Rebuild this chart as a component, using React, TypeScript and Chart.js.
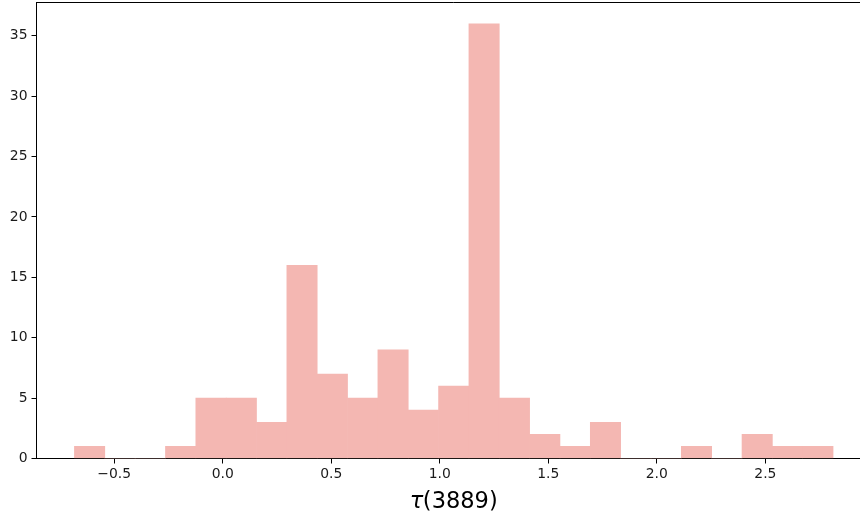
import React, { useEffect, useRef } from "react";
import { Chart, registerables } from "chart.js";

Chart.register(...registerables);

// Histogram of tau(3889): 25 equal-width bins
const binStart = -0.683;
const binWidth = 0.1398;
const counts = [1, 0, 0, 1, 5, 5, 3, 16, 7, 5, 9, 4, 6, 36, 5, 2, 1, 3, 0, 0, 1, 0, 2, 1, 1];
const xTicks = [-0.5, 0.0, 0.5, 1.0, 1.5, 2.0, 2.5];
const yTicks = [0, 5, 10, 15, 20, 25, 30, 35];
const xLabelSymbol = "τ";
const xLabelRest = "(3889)";

const xMin = -0.8578;
const xMax = 2.9868;
const yMax = 37.8;

const barColor = "rgb(244,183,178)";
const tickFont = { family: "DejaVu Sans", size: 13.9 };

export default function App() {
  const ref = useRef<HTMLCanvasElement | null>(null);

  useEffect(() => {
    const canvas = ref.current;
    if (!canvas) return;
    const points = counts.map((c, i) => ({ x: binStart + (i + 0.5) * binWidth, y: c }));

    const frame = {
      id: "frame",
      afterDraw(chart: any) {
        const { ctx, chartArea } = chart;
        ctx.save();
        ctx.strokeStyle = "#000";
        ctx.lineWidth = 1;
        ctx.beginPath();
        ctx.moveTo(chartArea.left, Math.round(chartArea.top) + 0.5);
        ctx.lineTo(chartArea.right, Math.round(chartArea.top) + 0.5);
        ctx.stroke();
        // x axis label: italic tau + upright rest
        const size = 22.5;
        ctx.fillStyle = "#000";
        ctx.textBaseline = "alphabetic";
        ctx.font = `italic ${size}px "DejaVu Sans"`;
        const w1 = ctx.measureText(xLabelSymbol).width;
        ctx.font = `${size}px "DejaVu Sans"`;
        const w2 = ctx.measureText(xLabelRest).width;
        const gap = -0.5;
        const cx = (chartArea.left + chartArea.right) / 2;
        const x0 = cx - (w1 + gap + w2) / 2;
        const y = 508;
        ctx.font = `italic ${size}px "DejaVu Sans"`;
        ctx.fillText(xLabelSymbol, x0, y);
        ctx.font = `${size}px "DejaVu Sans"`;
        ctx.fillText(xLabelRest, x0 + w1 + gap, y);
        ctx.restore();
      },
    };

    const chart = new Chart(canvas, {
      type: "bar",
      data: {
        datasets: [
          {
            data: points,
            backgroundColor: barColor,
            borderWidth: 0,
            barPercentage: 1,
            categoryPercentage: 1,
          } as any,
        ],
      },
      options: {
        animation: false,
        responsive: false,
        devicePixelRatio: 1,
        layout: { padding: { top: 2, right: 1, left: 0, bottom: 0 } },
        plugins: { legend: { display: false }, tooltip: { enabled: false } },
        scales: {
          x: {
            type: "linear",
            min: xMin,
            max: xMax,
            offset: false,
            afterBuildTicks: (s: any) => {
              s.ticks = xTicks.map((v) => ({ value: v }));
            },
            afterFit: (s: any) => {
              s.height = 55.5;
              s.paddingLeft = 0;
              s.paddingRight = 0;
            },
            grid: {
              display: true,
              offset: false,
              drawOnChartArea: false,
              drawTicks: true,
              tickLength: 5,
              tickColor: "#000",
              tickWidth: 1,
            },
            border: { display: true, color: "#000", width: 1 },
            ticks: {
              color: "#1a1a1a",
              font: tickFont,
              padding: 3,
              maxRotation: 0,
              autoSkip: false,
              callback: (v: any) => {
                const n = Number(v);
                const s = Math.abs(n).toFixed(1);
                return n < 0 ? "\u2212" + s : s;
              },
            },
          },
          y: {
            type: "linear",
            min: 0,
            max: yMax,
            afterBuildTicks: (s: any) => {
              s.ticks = yTicks.map((v) => ({ value: v }));
            },
            afterFit: (s: any) => {
              s.width = 36.5;
              s.paddingTop = 0;
              s.paddingBottom = 0;
            },
            grid: {
              display: true,
              offset: false,
              drawOnChartArea: false,
              drawTicks: true,
              tickLength: 5,
              tickColor: "#000",
              tickWidth: 1,
            },
            border: { display: true, color: "#000", width: 1 },
            ticks: {
              color: "#1a1a1a",
              font: tickFont,
              padding: 4,
              autoSkip: false,
              callback: (v: any) => String(v),
            },
          },
        },
      },
      plugins: [frame],
    });
    return () => chart.destroy();
  }, []);

  return (
    <div
      style={{
        position: "fixed",
        left: 0,
        top: 0,
        width: 860,
        height: 514,
        overflow: "hidden",
        background: "#fff",
      }}
    >
      <canvas ref={ref} width={872} height={514} style={{ display: "block" }} />
    </div>
  );
}
